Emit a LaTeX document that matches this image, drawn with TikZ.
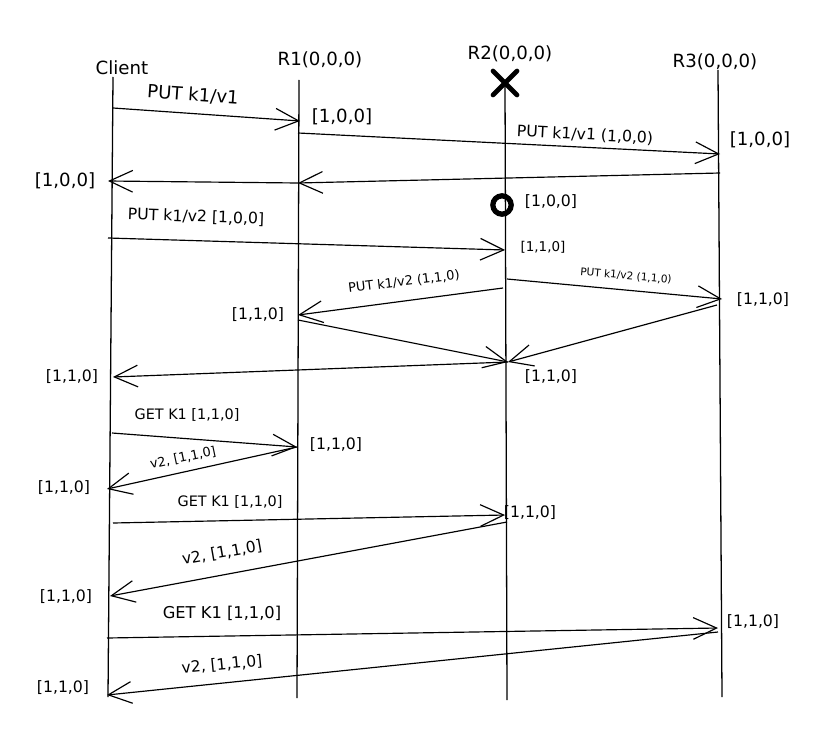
\documentclass[tikz,border=0pt]{standalone}
\usepackage{fontspec}
\setmainfont{DejaVu Sans}
\usetikzlibrary{arrows.meta,shapes.misc}

\begin{document}
\begin{tikzpicture}[x=0.03cm, y=-0.03cm,
  life/.style={line width=1.1pt},
  msg/.style={line width=1pt, -{Straight Barb[length=7mm,width=6.5mm]}},
  txt/.style={font=\fontsize{#1}{18}\selectfont, inner sep=0pt}]
\useasboundingbox (0,0) rectangle (822,732);

% heads
\node[txt=15.5] (client) at (122,68) {Client};
\node[txt=15.5] (r1) at (320,60) {R1(0,0,0)};
\node[txt=15.5] (r2) at (510,54) {R2(0,0,0)};
\node[txt=15.5] (r3) at (715,62) {R3(0,0,0)};
\node[draw, cross out, line width=4pt, line cap=round, minimum size=0.58cm] (crash) at (505,83) {};

% life lines
\coordinate (cT) at (113,77);  \coordinate (cB) at (108,697);
\coordinate (aT) at (299,80);  \coordinate (aB) at (297,698);
\coordinate (bB) at (507,700);
\coordinate (dT) at (718,70);  \coordinate (dB) at (722,697);
\draw[life] (cT) -- (cB);
\draw[life] (aT) -- (aB);
\draw[life] (crash.center) -- (bB);
\draw[life] (dT) -- (dB);
\node[draw, circle, line width=4.5pt, inner sep=0pt, minimum size=0.55cm] (back) at (502,205) {};

% client points
\coordinate (c1) at (113,108);
\coordinate (c2) at (108,181);
\coordinate (c3) at (108,238);
\coordinate (c4) at (113,377);
\coordinate (c5) at (112,433);
\coordinate (c6) at (107,489);
\coordinate (c7) at (113,523);
\coordinate (c8) at (110,596);
\coordinate (c9) at (107,638);
\coordinate (c10) at (107,695);
% R1 points
\coordinate (ra1) at (300,121);
\coordinate (ra2) at (298,133);
\coordinate (ra3) at (298,183);
\coordinate (ra4) at (298,315);
\coordinate (ra5) at (298,320);
\coordinate (ra6) at (297,447);
% R2 points
\coordinate (rb1) at (505,250);
\coordinate (rb2) at (503,288);
\coordinate (rb3) at (507,279);
\coordinate (rb4) at (508,362);
\coordinate (rb5) at (505,515);
\coordinate (rb6) at (507,522);
% R3 points
\coordinate (rc1) at (720,154);
\coordinate (rc2) at (720,173);
\coordinate (rc3) at (722,299);
\coordinate (rc4) at (717,305);
\coordinate (rc5) at (718,628);
\coordinate (rc6) at (718,632);

% first put
\draw[msg] (c1) -- (ra1);
\draw[msg] (ra2) -- (rc1);
\draw[msg] (rc2) -- (ra3);
\draw[msg] (ra3) -- (c2);
\node[txt=15.5, rotate=-4] (put1) at (193,95) {PUT k1/v1};
\node[txt=13.4, rotate=-3] (put1r) at (585,135) {PUT k1/v1 (1,0,0)};
\node[txt=15.5] (vc1) at (342,117) {[1,0,0]};
\node[txt=15.5] (vc2) at (760,140) {[1,0,0]};
\node[txt=15.5] (vc3) at (65,181) {[1,0,0]};
\node[txt=13.4] (vc4) at (551,202) {[1,0,0]};

% second put
\draw[msg] (c3) -- (rb1);
\draw[msg] (rb2) -- (ra4);
\draw[msg] (rb3) -- (rc3);
\draw[msg] (ra5) -- (rb4);
\draw[msg] (rc4) -- (rb4);
\draw[msg] (rb4) -- (c4);
\node[txt=13.4, rotate=-2] (put2) at (196,217) {PUT k1/v2 [1,0,0]};
\node[txt=11, rotate=7] (put2a) at (404,282) {PUT k1/v2 (1,1,0)};
\node[txt=9, rotate=-5] (put2c) at (626,276) {PUT k1/v2 (1,1,0)};
\node[txt=11.5] (vc5) at (543,247) {[1,1,0]};
\node[txt=13.4] (vc6) at (258,315) {[1,1,0]};
\node[txt=13.4] (vc7) at (763,300) {[1,1,0]};
\node[txt=13.4] (vc8) at (551,377) {[1,1,0]};
\node[txt=13.4] (vc9) at (72,377) {[1,1,0]};

% gets
\draw[msg] (c5) -- (ra6);
\draw[msg] (ra6) -- (c6);
\draw[msg] (c7) -- (rb5);
\draw[msg] (rb6) -- (c8);
\draw[msg] (c9) -- (rc5);
\draw[msg] (rc6) -- (c10);
\node[txt=12.3] (get1) at (187,415) {GET K1 [1,1,0]};
\node[txt=11, rotate=12] (ans1) at (183,458) {v2, [1,1,0]};
\node[txt=12.3] (get2) at (230,502) {GET K1 [1,1,0]};
\node[txt=13.3, rotate=10] (ans2) at (222,553) {v2, [1,1,0]};
\node[txt=13.9] (get3) at (222,613) {GET K1 [1,1,0]};
\node[txt=13.3, rotate=5.5] (ans3) at (222,665) {v2, [1,1,0]};
\node[txt=13.4] (vc10) at (336,445) {[1,1,0]};
\node[txt=13.4] (vc11) at (64,488) {[1,1,0]};
\node[txt=13.4] (vc12) at (530,513) {[1,1,0]};
\node[txt=13.4] (vc13) at (66,597) {[1,1,0]};
\node[txt=13.4] (vc14) at (753,622) {[1,1,0]};
\node[txt=13.4] (vc15) at (63,688) {[1,1,0]};
\end{tikzpicture}
\end{document}
